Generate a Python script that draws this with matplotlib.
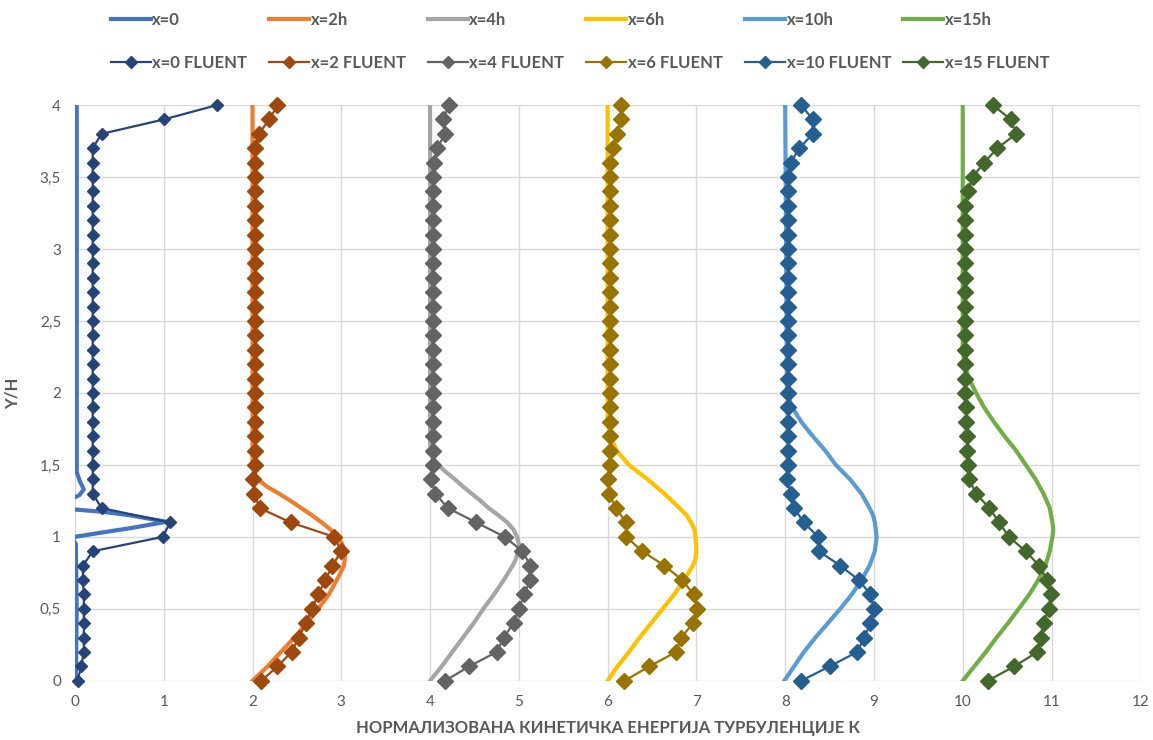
import matplotlib
matplotlib.use("Agg")
import matplotlib.pyplot as plt
from matplotlib.ticker import FuncFormatter

plt.rcParams['font.family'] = ['Lato', 'DejaVu Sans']

# y/H levels of the FLUENT profiles (0 .. 4, every 0.1)
fluent_y = [0.0, 0.1, 0.2, 0.3, 0.4, 0.5, 0.6, 0.7, 0.8, 0.9,
            1.0, 1.1, 1.2, 1.3, 1.4, 1.5, 1.6, 1.7, 1.8, 1.9,
            2.0, 2.1, 2.2, 2.3, 2.4, 2.5, 2.6, 2.7, 2.8, 2.9,
            3.0, 3.1, 3.2, 3.3, 3.4, 3.5, 3.6, 3.7, 3.8, 3.9, 4.0]

f0 = [0.03, 0.07, 0.10, 0.10, 0.10, 0.10, 0.10, 0.09, 0.09, 0.20,
      0.99, 1.07, 0.30, 0.20, 0.20, 0.20, 0.20, 0.20, 0.20, 0.20,
      0.20, 0.20, 0.20, 0.20, 0.20, 0.20, 0.20, 0.20, 0.20, 0.20,
      0.20, 0.20, 0.20, 0.20, 0.20, 0.20, 0.20, 0.20, 0.30, 1.00, 1.60]
f2 = [2.10, 2.28, 2.44, 2.52, 2.60, 2.67, 2.74, 2.82, 2.90, 3.00,
      2.92, 2.43, 2.08, 2.02, 2.01, 2.03, 2.03, 2.03, 2.03, 2.03,
      2.03, 2.03, 2.03, 2.03, 2.03, 2.03, 2.03, 2.03, 2.03, 2.03,
      2.03, 2.03, 2.03, 2.03, 2.03, 2.03, 2.03, 2.03, 2.07, 2.19, 2.28]
f4 = [4.17, 4.44, 4.75, 4.83, 4.94, 5.00, 5.06, 5.13, 5.13, 5.04,
      4.84, 4.52, 4.20, 4.06, 4.01, 4.03, 4.03, 4.03, 4.03, 4.03,
      4.03, 4.03, 4.03, 4.03, 4.03, 4.03, 4.03, 4.03, 4.03, 4.03,
      4.03, 4.03, 4.03, 4.03, 4.03, 4.03, 4.04, 4.08, 4.17, 4.15, 4.21]
f6 = [6.19, 6.47, 6.77, 6.83, 6.96, 7.01, 6.97, 6.84, 6.64, 6.39,
      6.21, 6.21, 6.09, 6.02, 6.00, 6.03, 6.03, 6.03, 6.03, 6.03,
      6.03, 6.03, 6.03, 6.03, 6.03, 6.03, 6.03, 6.03, 6.03, 6.03,
      6.03, 6.03, 6.03, 6.03, 6.03, 6.03, 6.03, 6.06, 6.11, 6.15, 6.15]
f10 = [8.18, 8.50, 8.81, 8.89, 8.96, 9.00, 8.96, 8.83, 8.62, 8.38,
       8.37, 8.21, 8.10, 8.06, 8.02, 8.03, 8.03, 8.03, 8.03, 8.03,
       8.03, 8.03, 8.03, 8.03, 8.03, 8.03, 8.03, 8.03, 8.03, 8.03,
       8.03, 8.03, 8.03, 8.03, 8.03, 8.03, 8.06, 8.16, 8.31, 8.31, 8.18]
f15 = [10.28, 10.58, 10.84, 10.88, 10.91, 10.97, 10.99, 10.95, 10.86, 10.71,
       10.52, 10.41, 10.30, 10.15, 10.07, 10.06, 10.05, 10.05, 10.04, 10.04,
       10.03, 10.03, 10.03, 10.03, 10.03, 10.03, 10.03, 10.03, 10.03, 10.03,
       10.03, 10.03, 10.03, 10.02, 10.06, 10.11, 10.24, 10.39, 10.60, 10.54, 10.34]

# smooth (measured) profiles
s0_x = [0.02, 0.02, 0.06, 0.10, 0.05, -0.05, -0.05, 0.00, 0.30, 0.62, 1.03, 0.62, 0.30, 0.00, -0.03, 0.01, 0.02, 0.01]
s0_y = [4.00, 1.45, 1.38, 1.33, 1.29, 1.26, 1.20, 1.19, 1.175, 1.15, 1.105, 1.06, 1.03, 1.00, 0.99, 0.95, 0.50, 0.00]
s2_x = [2.0, 2.0, 2.02, 2.06, 2.16, 2.30, 2.43, 2.55, 2.67, 2.78, 2.88, 2.96, 3.01, 3.04, 3.04, 3.03,
        2.95, 2.86, 2.74, 2.61, 2.47, 2.32, 2.17, 2.0]
s2_y = [4.0, 1.5, 1.45, 1.4, 1.35, 1.3, 1.25, 1.2, 1.15, 1.1, 1.05, 1.0, 0.95, 0.9, 0.85, 0.8,
        0.7, 0.6, 0.5, 0.4, 0.3, 0.2, 0.1, 0.0]
s4_x = [4.0, 4.0, 4.03, 4.09, 4.18, 4.28, 4.37, 4.47, 4.57, 4.66, 4.77, 4.87, 4.94, 4.98, 5.0, 4.99,
        4.97, 4.93, 4.83, 4.72, 4.60, 4.49, 4.37, 4.25, 4.13, 4.0]
s4_y = [4.0, 1.65, 1.55, 1.5, 1.45, 1.4, 1.35, 1.3, 1.25, 1.2, 1.15, 1.1, 1.05, 1.0, 0.95, 0.9,
        0.85, 0.8, 0.7, 0.6, 0.5, 0.4, 0.3, 0.2, 0.1, 0.0]
s6_x = [6.0, 6.0, 6.03, 6.10, 6.24, 6.45, 6.64, 6.81, 6.89, 6.94, 6.98, 6.99, 7.00, 6.99, 6.96,
        6.86, 6.75, 6.62, 6.49, 6.36, 6.24, 6.11, 6.0]
s6_y = [4.0, 1.8, 1.7, 1.6, 1.5, 1.4, 1.3, 1.2, 1.15, 1.1, 1.05, 1.0, 0.9, 0.85, 0.8,
        0.7, 0.6, 0.5, 0.4, 0.3, 0.2, 0.1, 0.0]
s10_x = [8.0, 8.02, 8.08, 8.18, 8.31, 8.45, 8.57, 8.73, 8.86, 8.95, 8.99, 9.01, 9.03, 9.02,
         9.01, 8.95, 8.86, 8.75, 8.62, 8.48, 8.34, 8.21, 8.10, 7.99]
s10_y = [4.0, 2.0, 1.9, 1.8, 1.7, 1.6, 1.5, 1.4, 1.3, 1.2, 1.15, 1.1, 1.0, 0.95,
         0.9, 0.8, 0.7, 0.6, 0.5, 0.4, 0.3, 0.2, 0.1, 0.0]
s15_x = [10.0, 10.0, 10.02, 10.07, 10.15, 10.24, 10.35, 10.47, 10.60, 10.71, 10.82, 10.91, 10.98,
         11.01, 11.02, 11.01, 10.98, 10.93, 10.85, 10.75, 10.63, 10.51, 10.38, 10.26, 10.13, 10.0]
s15_y = [4.0, 2.3, 2.2, 2.1, 2.0, 1.9, 1.8, 1.7, 1.6, 1.5, 1.4, 1.3, 1.2,
         1.1, 1.05, 1.0, 0.9, 0.8, 0.7, 0.6, 0.5, 0.4, 0.3, 0.2, 0.1, 0.0]

smooth = [(s0_x, s0_y, "x=0", "#4472C4"),
          (s2_x, s2_y, "x=2h", "#ED7D31"),
          (s4_x, s4_y, "x=4h", "#A5A5A5"),
          (s6_x, s6_y, "x=6h", "#FFC000"),
          (s10_x, s10_y, "x=10h", "#5B9BD5"),
          (s15_x, s15_y, "x=15h", "#70AD47")]
fluent = [(f0, "x=0 FLUENT", "#264478", 6),
          (f2, "x=2 FLUENT", "#9E480E", 8.5),
          (f4, "x=4 FLUENT", "#636363", 8.5),
          (f6, "x=6 FLUENT", "#997300", 8.5),
          (f10, "x=10 FLUENT", "#255E91", 8.5),
          (f15, "x=15 FLUENT", "#43682B", 8.5)]

fig = plt.figure(figsize=(11.53, 7.40), dpi=100)
ax = fig.add_axes([0.065, 0.08, 0.924, 0.778])

pairs = []
for (sx, sy, lab, col), (fx, flab, fcol, ms) in zip(smooth, fluent):
    l1, = ax.plot(sx, sy, color=col, lw=3.0, label=lab, zorder=2,
                  solid_joinstyle='round')
    l2, = ax.plot(fx, fluent_y, color=fcol, lw=1.6, marker='D', ms=ms,
                  label=flab, zorder=3, clip_on=False)
    pairs.append([l1, l2])

ax.set_xlim(0, 12)
ax.set_ylim(0, 4)
ax.set_xticks(range(0, 13))
ax.set_yticks([0, 0.5, 1, 1.5, 2, 2.5, 3, 3.5, 4])
comma = FuncFormatter(lambda v, p: ("%g" % v).replace(".", ","))
ax.xaxis.set_major_formatter(comma)
ax.yaxis.set_major_formatter(comma)
ax.tick_params(length=0, labelsize=11, labelcolor="#595959", pad=10)
ax.grid(True, color="#D9D9D9", lw=1)
ax.set_axisbelow(True)
for s in ax.spines.values():
    s.set_visible(False)

ax.set_xlabel("НОРМАЛИЗОВАНА КИНЕТИЧКА ЕНЕРГИЈА ТУРБУЛЕНЦИЈЕ К",
              fontsize=12, fontweight="bold", color="#595959", labelpad=8)
ax.set_ylabel("Y/H", fontsize=12, fontweight="bold", color="#595959", labelpad=14)

# one small legend per column, so the columns sit evenly like in Excel
for i, pair in enumerate(pairs):
    leg = fig.legend(handles=pair, loc="upper left",
                     bbox_to_anchor=(0.083 + i * 0.1375, 1.004), frameon=False,
                     handlelength=2.4, handletextpad=0.1,
                     labelspacing=1.6, prop={"weight": "bold", "size": 12})
    for t in leg.get_texts():
        t.set_color("#595959")
    for h in leg.legend_handles:
        h.set_markersize(6)

fig.savefig("out.png", dpi=100)
